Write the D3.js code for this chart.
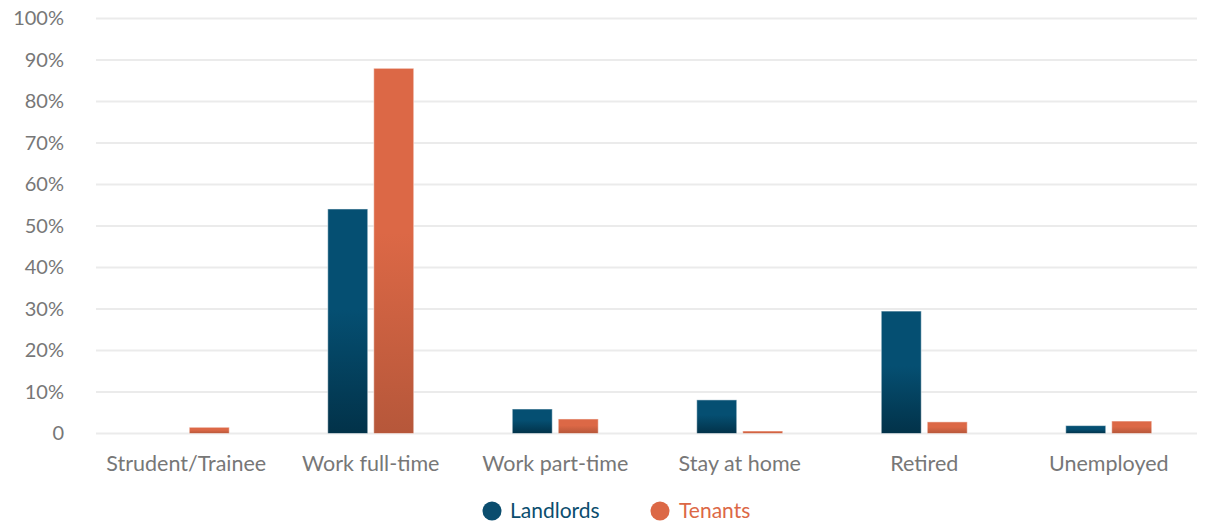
<!DOCTYPE html>
<html>
<head>
<meta charset="utf-8">
<script src="https://cdn.jsdelivr.net/npm/d3@7"></script>
<style>
  html, body { margin: 0; padding: 0; background: #fff; }
  svg { display: block; font-family: Lato, "Open Sans", sans-serif; }
</style>
</head>
<body>
<svg id="chart" width="1211" height="525"></svg>
<script>
const categories = ["Strudent/Trainee", "Work full-time", "Work part-time", "Stay at home", "Retired", "Unemployed"];
const seriesNames = ["Landlords", "Tenants"];
const landlords = [0, 54.1, 5.9, 8.1, 29.5, 1.9];
const tenants = [1.5, 88, 3.5, 0.6, 2.8, 3.0];
const yTicks = [0, 10, 20, 30, 40, 50, 60, 70, 80, 90, 100];
const yTickLabels = ["0", "10%", "20%", "30%", "40%", "50%", "60%", "70%", "80%", "90%", "100%"];

const colors = { Landlords: ["#054f72", "#023249"], Tenants: ["#dc6846", "#b6573a"] };
const legendColors = { Landlords: "#0b4d6e", Tenants: "#dc6846" };

const svg = d3.select("#chart");
const defs = svg.append("defs");
seriesNames.forEach(s => {
  const g = defs.append("linearGradient").attr("id", "grad-" + s)
    .attr("x1", 0).attr("y1", 0).attr("x2", 0).attr("y2", 1);
  g.append("stop").attr("offset", "0%").attr("stop-color", colors[s][0]);
  g.append("stop").attr("offset", "45%").attr("stop-color", colors[s][0]);
  g.append("stop").attr("offset", "100%").attr("stop-color", colors[s][1]);
});

const x = d3.scaleBand().domain(categories).range([94, 1201]).paddingInner(0).paddingOuter(0);
const y = d3.scaleLinear().domain([0, 100]).range([433.5, 18.5]);

// gridlines
svg.append("g").selectAll("line").data(yTicks).join("line")
  .attr("x1", 96).attr("x2", 1197)
  .attr("y1", d => y(d)).attr("y2", d => y(d))
  .attr("stroke", "#ebebeb").attr("stroke-width", 2);

// y labels
const yAxis = d3.axisLeft(y).tickValues(yTicks).tickFormat((d, i) => yTickLabels[i]).tickSize(0).tickPadding(0);
const ya = svg.append("g").attr("transform", "translate(64,0)").call(yAxis);
ya.select(".domain").remove();
ya.selectAll("text").attr("fill", "#777").attr("font-size", 20).attr("font-family", "Lato, sans-serif");

// x labels
const xAxis = d3.axisBottom(x).tickSize(0).tickPadding(0);
const xa = svg.append("g").attr("transform", "translate(0,456)").call(xAxis);
xa.select(".domain").remove();
xa.selectAll("text").attr("fill", "#777").attr("font-size", 21.5).attr("font-family", "Lato, sans-serif");

const data = categories.map((c, i) => ({ cat: c, Landlords: landlords[i], Tenants: tenants[i] }));
const barW = 40, gap = 6;
const offs = { Landlords: -gap / 2 - barW, Tenants: gap / 2 };

seriesNames.forEach(s => {
  svg.append("g").selectAll("rect").data(data.filter(d => d[s] > 0)).join("rect")
    .attr("x", d => x(d.cat) + x.bandwidth() / 2 + offs[s])
    .attr("width", barW)
    .attr("y", d => y(d[s]))
    .attr("height", d => y(0) - y(d[s]))
    .attr("fill", "url(#grad-" + s + ")")
    .attr("stroke", "rgba(255,255,255,0.5)").attr("stroke-width", 1);
});

// legend
const legend = svg.append("g");
const items = [{ s: "Landlords", cx: 492, tx: 510 }, { s: "Tenants", cx: 660, tx: 679 }];
items.forEach(it => {
  legend.append("circle").attr("cx", it.cx).attr("cy", 511).attr("r", 9.5).attr("fill", legendColors[it.s]);
  legend.append("text").attr("x", it.tx).attr("y", 511).attr("dy", "0.35em")
    .attr("font-size", 21).attr("fill", legendColors[it.s]).text(it.s);
});
</script>
</body>
</html>
